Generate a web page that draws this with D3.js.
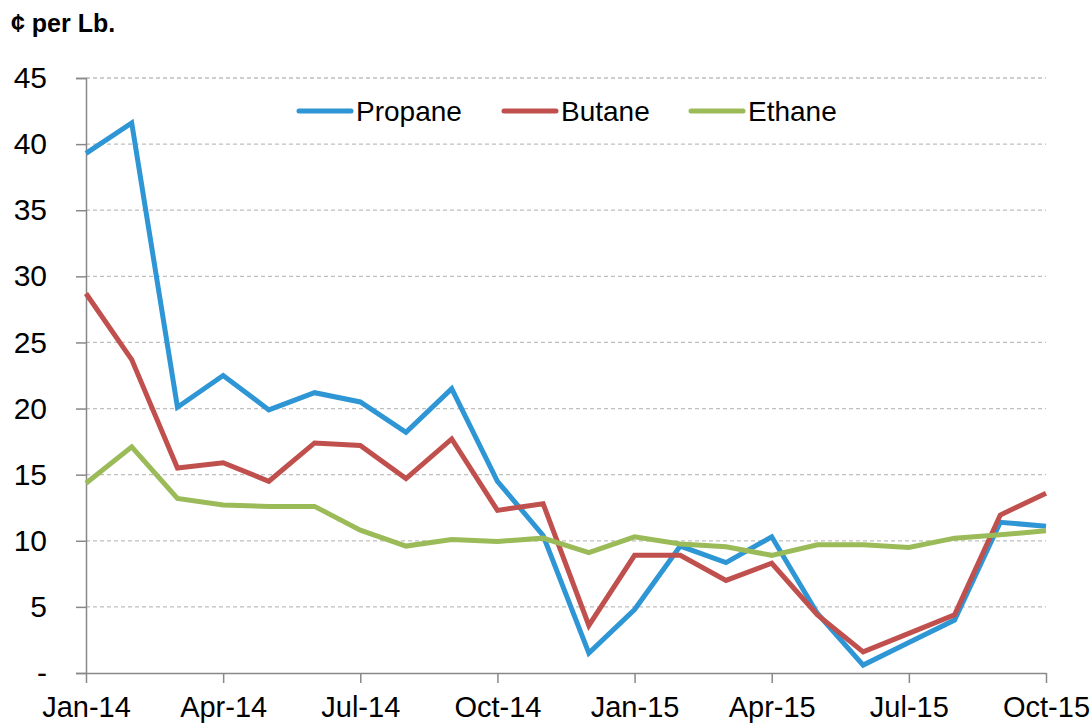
<!DOCTYPE html>
<html>
<head>
<meta charset="utf-8">
<script src="https://cdn.jsdelivr.net/npm/d3@7"></script>
<style>
  body { margin: 0; background: #fff; }
  svg { font-family: "Liberation Sans", Arial, sans-serif; }
</style>
</head>
<body>
<div id="chart"></div>
<script>
const months = ["Jan-14","Feb-14","Mar-14","Apr-14","May-14","Jun-14","Jul-14","Aug-14","Sep-14","Oct-14","Nov-14","Dec-14",
  "Jan-15","Feb-15","Mar-15","Apr-15","May-15","Jun-15","Jul-15","Aug-15","Sep-15","Oct-15"];
const tickMonths = ["Jan-14","Apr-14","Jul-14","Oct-14","Jan-15","Apr-15","Jul-15","Oct-15"];
const yTicks = [0, 5, 10, 15, 20, 25, 30, 35, 40, 45];

const propane = [39.3, 41.6, 20.1, 22.5, 19.9, 21.2, 20.5, 18.2, 21.5, 14.5, 10.4, 1.5,
  4.8, 9.6, 8.35, 10.3, 4.5, 0.6, 2.3, 4.0, 11.4, 11.1];
const butane = [28.7, 23.7, 15.5, 15.9, 14.5, 17.4, 17.2, 14.7, 17.7, 12.3, 12.8, 3.6,
  8.9, 8.9, 7.0, 8.3, 4.4, 1.6, 3.0, 4.4, 11.95, 13.6];
const ethane = [14.35, 17.1, 13.2, 12.7, 12.6, 12.6, 10.8, 9.6, 10.1, 9.95, 10.2, 9.1,
  10.3, 9.75, 9.55, 8.9, 9.7, 9.7, 9.5, 10.2, 10.45, 10.75];

const series = [
  { name: "Propane", values: propane, color: "#2E96D4" },
  { name: "Butane", values: butane, color: "#C0504D" },
  { name: "Ethane", values: ethane, color: "#9BBB59" }
];

const size = { x: 1092, y: 723 };
const margin = { top: 78, bottom: 50, left: 86, right: 46 };

const svg = d3.select("#chart")
  .append("svg")
  .attr("width", size.x)
  .attr("height", size.y);

const xScale = d3.scalePoint()
  .domain(months)
  .range([margin.left, size.x - margin.right]);

const yScale = d3.scaleLinear()
  .domain([0, 45])
  .range([size.y - margin.bottom, margin.top]);

// gridlines
svg.append("g")
  .selectAll("line")
  .data(yTicks.filter(d => d > 0))
  .enter()
  .append("line")
  .attr("x1", margin.left)
  .attr("x2", size.x - margin.right)
  .attr("y1", d => yScale(d))
  .attr("y2", d => yScale(d))
  .attr("stroke", "#BFBFBF")
  .attr("stroke-width", 1.3)
  .attr("stroke-dasharray", "4,3");

// y axis
const yAxis = svg.append("g")
  .attr("transform", `translate(${margin.left},0)`)
  .call(d3.axisLeft(yScale).tickValues(yTicks).tickSize(10).tickPadding(29)
    .tickFormat(d => d === 0 ? "-" : d));
yAxis.select(".domain").attr("stroke", "#888").attr("stroke-width", 1.5);
yAxis.selectAll(".tick line").attr("stroke", "#888").attr("stroke-width", 1.5);
yAxis.selectAll("text").attr("font-size", "30px").attr("fill", "#000").attr("font-family", "Liberation Sans, Arial, sans-serif");

// x axis
const xAxis = svg.append("g")
  .attr("transform", `translate(0,${yScale(0)})`)
  .call(d3.axisBottom(xScale).tickValues(tickMonths).tickSize(10).tickSizeOuter(0).tickPadding(13));
xAxis.select(".domain").attr("stroke", "#888").attr("stroke-width", 1.5);
xAxis.selectAll(".tick line").attr("stroke", "#888").attr("stroke-width", 1.5);
xAxis.selectAll("text").attr("font-size", "29px").attr("fill", "#000").attr("font-family", "Liberation Sans, Arial, sans-serif");

// unit label
svg.append("text")
  .text("¢ per Lb.")
  .attr("x", 11)
  .attr("y", 32)
  .attr("font-size", "25px")
  .attr("font-weight", 700);

// lines
const line = d3.line()
  .x((d, i) => xScale(months[i]))
  .y(d => yScale(d));

svg.append("g")
  .selectAll("path")
  .data(series)
  .enter()
  .append("path")
  .attr("d", d => line(d.values))
  .attr("fill", "none")
  .attr("stroke", d => d.color)
  .attr("stroke-width", 5)
  .attr("stroke-linejoin", "miter");

// legend
const legendX = [297, 502, 689];
const legend = svg.append("g")
  .selectAll("g")
  .data(series)
  .enter()
  .append("g")
  .attr("transform", (d, i) => `translate(${legendX[i]},111)`);

legend.append("line")
  .attr("x1", 2)
  .attr("x2", 54)
  .attr("stroke", d => d.color)
  .attr("stroke-width", 5)
  .attr("stroke-linecap", "round");

legend.append("text")
  .text(d => d.name)
  .attr("x", 59)
  .attr("y", 10)
  .attr("font-size", "28px");
</script>
</body>
</html>
